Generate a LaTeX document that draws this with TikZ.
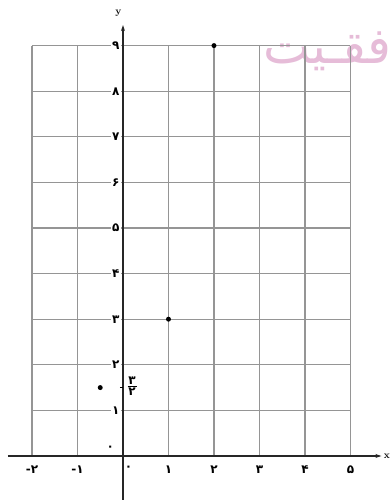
\documentclass[tikz,border=0pt]{standalone}
\usepackage{fontspec}
\newfontfamily\fa[Script=Arabic]{DejaVu Sans}
\newfontfamily\fd{DejaVu Sans}
\TeXXeTstate=1
\usetikzlibrary{arrows.meta}
\definecolor{gridc}{HTML}{959595}
\definecolor{wm}{HTML}{E6BCD8}
\tikzset{
  gridline/.style={draw=gridc, line width=1.1pt},
  axisline/.style={draw=black!85, line width=1.3pt},
  ylab/.style={font=\fd\bfseries\fontsize{12}{12}\selectfont, fill=white, inner sep=1pt, anchor=east},
  xlab/.style={font=\fd\bfseries\fontsize{12}{12}\selectfont, inner sep=1pt},
  dotpt/.style={circle, fill=black, inner sep=0pt, minimum size=5pt}
}
\begin{document}
\begin{tikzpicture}[x=45.5pt,y=45.6pt]
\useasboundingbox[fill=white] (-2.703,-1.009) rectangle (5.912,10.0);
% watermark
\node[font=\fa\fontsize{50}{50}\selectfont, text=wm, anchor=east, inner sep=0pt] (wmk) at (5.91,8.88) {\beginR فقـیت\endR};
% grid
\foreach \i in {-2,...,5} \draw[gridline] (\i,0) -- (\i,9);
\foreach \j in {1,...,9} \draw[gridline] (-2,\j) -- (5,\j);
% axes
\coordinate (xs) at (-2.53,0);
\coordinate (xe) at (5.68,0);
\coordinate (ys) at (0,-0.96);
\coordinate (ye) at (0,9.45);
\draw[axisline, -{Stealth[length=6pt,width=4pt]}] (xs) -- (xe);
\draw[axisline, -{Stealth[length=6pt,width=4pt]}] (ys) -- (ye);
\node[font=\bfseries\fontsize{10}{10}\selectfont, inner sep=0pt] (xl) at (5.8,0) {x};
\node[font=\bfseries\fontsize{10}{10}\selectfont, inner sep=0pt] (yl) at (-0.1,9.7) {y};
% y labels
\node[ylab] (y9) at (-0.05,9) {۹};
\node[ylab] (y8) at (-0.05,8) {۸};
\node[ylab] (y7) at (-0.05,7) {۷};
\node[ylab] (y6) at (-0.05,6) {۶};
\node[ylab] (y5) at (-0.05,5) {۵};
\node[ylab] (y4) at (-0.05,4) {۴};
\node[ylab] (y3) at (-0.05,3) {۳};
\node[ylab] (y2) at (-0.05,2) {۲};
\node[ylab] (y1) at (-0.05,1) {۱};
\node[xlab] (y0) at (-0.28,0.17) {۰};
% x labels
\node[xlab] (xm2) at (-2,-0.3) {-۲};
\node[xlab] (xm1) at (-1,-0.3) {-۱};
\node[xlab] (x0) at (0.12,-0.28) {۰};
\node[xlab] (x1) at (1,-0.3) {۱};
\node[xlab] (x2) at (2,-0.3) {۲};
\node[xlab] (x3) at (3,-0.3) {۳};
\node[xlab] (x4) at (4,-0.3) {۴};
\node[xlab] (x5) at (5,-0.3) {۵};
% 3/2 tick and label
\coordinate (t1) at (-0.07,1.5);
\coordinate (t2) at (0,1.5);
\draw[line width=1.2pt] (t1) -- (t2);
\node[xlab, inner sep=0pt] (fn) at (0.2,1.66) {۳};
\node[xlab, inner sep=0pt] (fdn) at (0.2,1.4) {۲};
\coordinate (fl) at (0.1,1.53);
\coordinate (fr) at (0.3,1.53);
\draw[line width=0.8pt] (fl) -- (fr);
% points
\node[dotpt] (p1) at (2,9) {};
\node[dotpt] (p2) at (1,3) {};
\node[dotpt] (p3) at (-0.5,1.5) {};
\end{tikzpicture}
\end{document}
